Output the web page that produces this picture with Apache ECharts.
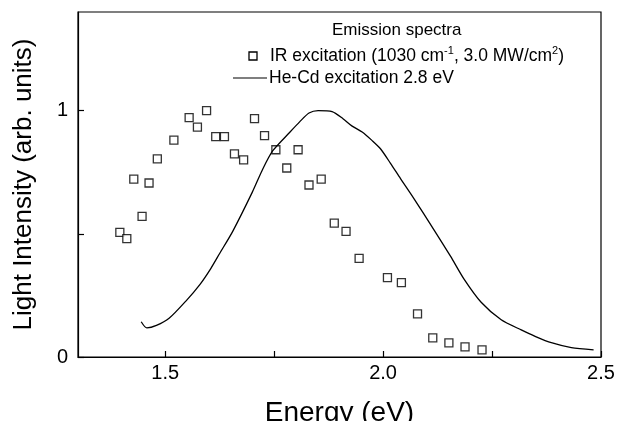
<!DOCTYPE html>
<html>
<head>
<meta charset="utf-8">
<script src="https://cdn.jsdelivr.net/npm/echarts@6/dist/echarts.min.js"></script>
<style>
  html, body { margin: 0; padding: 0; background: #fff; }
  #chart { width: 617px; height: 421px; }
</style>
</head>
<body>
<div id="chart"></div>
<script>
// IR excitation (squares)
const irEnergy = [1.396, 1.412, 1.428, 1.447, 1.463, 1.482, 1.52, 1.555, 1.574, 1.595, 1.616,
  1.636, 1.659, 1.68, 1.705, 1.728, 1.754, 1.779, 1.805, 1.83, 1.858, 1.888, 1.915, 1.945,
  2.01, 2.042, 2.079, 2.114, 2.151, 2.188, 2.227]
const irIntensity = [0.506, 0.48, 0.722, 0.571, 0.706, 0.804, 0.88, 0.971, 0.933, 1.0, 0.894,
  0.894, 0.824, 0.8, 0.967, 0.898, 0.841, 0.767, 0.841, 0.698, 0.722, 0.543, 0.51, 0.4,
  0.322, 0.302, 0.175, 0.078, 0.057, 0.041, 0.029]

// He-Cd excitation (line)
const hecdEnergy = [1.445, 1.458, 1.48, 1.509, 1.548, 1.58, 1.605, 1.625, 1.655, 1.7, 1.724,
  1.747, 1.786, 1.809, 1.83, 1.851, 1.883, 1.908, 1.929, 1.952, 1.975, 1.994, 2.017, 2.04,
  2.07, 2.116, 2.155, 2.185, 2.225, 2.271, 2.317, 2.35, 2.386, 2.432, 2.483]
const hecdIntensity = [0.143, 0.118, 0.128, 0.157, 0.228, 0.295, 0.36, 0.42, 0.51, 0.669, 0.763,
  0.837, 0.912, 0.955, 0.99, 1.0, 0.996, 0.967, 0.937, 0.913, 0.878, 0.845, 0.786, 0.724,
  0.645, 0.518, 0.408, 0.318, 0.222, 0.151, 0.11, 0.083, 0.058, 0.038, 0.029]

// 坐标轴刻度
const xTickValues = [1.5, 1.75, 2.0, 2.25, 2.5]
const xLabelValues = [1.5, 2.0, 2.5]
const yTickValues = [0, 0.5, 1]
const yLabelValues = [0, 1]

const font = "'Liberation Sans', Arial, Helvetica, sans-serif"

const chart = echarts.init(document.getElementById('chart'))

const option = {
  backgroundColor: '#fff',
  animation: false,
  grid: {
    left: 78,
    right: 16,
    top: 12,
    bottom: 64,
    containLabel: false,
    outerBoundsMode: 'none',
    show: true,
    borderColor: '#000',
    borderWidth: 1.2
  },
  xAxis: {
    type: 'value',
    min: 1.3,
    max: 2.5,
    name: 'Energy (eV)',
    nameLocation: 'middle',
    nameGap: 42,
    nameTextStyle: { fontFamily: font, fontSize: 28, color: '#000' },
    axisLine: { lineStyle: { color: '#000', width: 1.2 } },
    axisTick: {
      inside: true,
      length: 6,
      customValues: xTickValues,
      lineStyle: { color: '#000', width: 1.2 }
    },
    axisLabel: {
      customValues: xLabelValues,
      formatter: v => v.toFixed(1),
      fontFamily: font,
      fontSize: 20,
      color: '#000',
      margin: 6
    },
    splitLine: { show: false }
  },
  yAxis: {
    type: 'value',
    min: 0,
    max: 1.4,
    name: 'Light Intensity (arb. units)',
    nameLocation: 'middle',
    nameGap: 41,
    nameTextStyle: { fontFamily: font, fontSize: 26, color: '#000' },
    axisLine: { show: true, lineStyle: { color: '#000', width: 1.2 } },
    axisTick: {
      show: true,
      inside: true,
      length: 6,
      customValues: yTickValues,
      lineStyle: { color: '#000', width: 1.2 }
    },
    axisLabel: {
      customValues: yLabelValues,
      formatter: v => String(v),
      fontFamily: font,
      fontSize: 20,
      color: '#000',
      margin: 10
    },
    splitLine: { show: false }
  },
  series: [
    {
      name: 'IR excitation',
      type: 'scatter',
      symbol: 'rect',
      symbolSize: 8,
      itemStyle: { color: '#fff', borderColor: '#000', borderWidth: 1.3 },
      data: irEnergy.map((x, i) => [x, irIntensity[i]])
    },
    {
      name: 'He-Cd excitation',
      type: 'line',
      showSymbol: false,
      smooth: 0.25,
      lineStyle: { color: '#000', width: 1.3 },
      data: hecdEnergy.map((x, i) => [x, hecdIntensity[i]])
    }
  ],
  // 图例（手动绘制，含上标）
  graphic: [
    {
      type: 'text',
      style: {
        x: 332, y: 30, verticalAlign: 'middle',
        text: 'Emission spectra', font: '17px ' + font, fill: '#000'
      }
    },
    {
      type: 'rect',
      shape: { x: 249, y: 52, width: 8, height: 8 },
      style: { fill: '#fff', stroke: '#000', lineWidth: 1.3 }
    },
    {
      type: 'text',
      style: {
        x: 270, y: 56, verticalAlign: 'middle',
        text: 'IR excitation (1030 cm{sup|-1}, 3.0 MW/cm{sup|2})',
        font: '17.5px ' + font,
        fill: '#000',
        rich: {
          sup: { fontSize: 11, fontFamily: font, verticalAlign: 'top', lineHeight: 22, fill: '#000' }
        }
      }
    },
    {
      type: 'line',
      shape: { x1: 233, y1: 78, x2: 267, y2: 78 },
      style: { stroke: '#000', lineWidth: 1.2 }
    },
    {
      type: 'text',
      style: {
        x: 269, y: 78, verticalAlign: 'middle',
        text: 'He-Cd excitation 2.8 eV', font: '17.5px ' + font, fill: '#000'
      }
    }
  ]
}

chart.setOption(option)
</script>
</body>
</html>
